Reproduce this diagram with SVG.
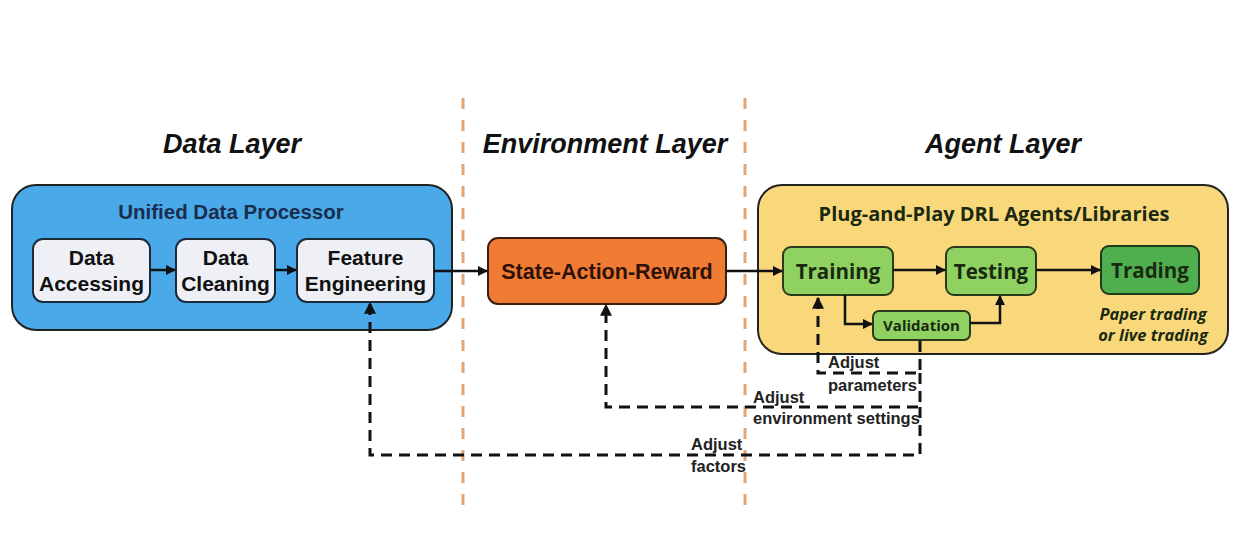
<svg xmlns="http://www.w3.org/2000/svg" width="1256" height="534" viewBox="0 0 1256 534">
<defs>
<marker id="ah" viewBox="0 0 10 10" refX="9" refY="5" markerWidth="4" markerHeight="4" orient="auto-start-reverse" markerUnits="strokeWidth">
<path d="M0,0 L10,5 L0,10 z" fill="#111"/>
</marker>
<style>
.layer{font-family:"Liberation Sans",Arial,sans-serif;font-weight:bold;font-style:italic;font-size:27px;fill:#111;text-anchor:middle}
.sep{stroke:#e3a575;stroke-width:3;stroke-dasharray:11 11;fill:none}
.grp{stroke:#222;stroke-width:2}
.t1{font-family:"Liberation Sans",Arial,sans-serif;font-weight:bold;font-size:20.5px;text-anchor:middle}
.box{fill:#eef0f5;stroke:#1d2a3a;stroke-width:2}
.bt{font-family:"Liberation Sans",Arial,sans-serif;font-weight:bold;font-size:21px;fill:#111;text-anchor:middle}
.ag{font-family:"Open Sans","Liberation Sans",sans-serif;font-weight:bold;text-anchor:middle;fill:#1a2a10}
.gbox{fill:#8fd262;stroke:#2a3a1a;stroke-width:2}
.conn{stroke:#111;stroke-width:2.5;fill:none}
.dash{stroke:#111;stroke-width:3;fill:none;stroke-dasharray:11 7}
.lbl{font-family:"Liberation Sans",Arial,sans-serif;font-weight:bold;font-size:16.5px;fill:#222}
</style>
</defs>
<rect width="1256" height="534" fill="#ffffff"/>

<g id="separators">
<line class="sep" x1="463" y1="98" x2="463" y2="505"/>
<line class="sep" x1="745" y1="98" x2="745" y2="505"/>
</g>

<g id="layer-titles">
<text class="layer" x="232" y="153">Data Layer</text>
<text class="layer" x="605" y="153">Environment Layer</text>
<text class="layer" x="1003" y="153">Agent Layer</text>
</g>

<g id="data-layer">
<rect class="grp" x="12" y="185" width="440" height="145" rx="24" fill="#4aa9e9"/>
<text class="t1" x="231" y="219" fill="#1a2d4d">Unified Data Processor</text>
</g>

<g id="data-accessing">
<rect class="box" x="33" y="239" width="117" height="63" rx="10"/>
<text class="bt" x="91.5" y="265">Data</text>
<text class="bt" x="91.5" y="291">Accessing</text>
</g>
<g id="data-cleaning">
<rect class="box" x="176" y="239" width="99" height="63" rx="10"/>
<text class="bt" x="225.5" y="265">Data</text>
<text class="bt" x="225.5" y="291">Cleaning</text>
</g>
<g id="feature-engineering">
<rect class="box" x="297" y="239" width="137" height="63" rx="10"/>
<text class="bt" x="365.5" y="265">Feature</text>
<text class="bt" x="365.5" y="291">Engineering</text>
</g>

<g id="state-action-reward">
<rect x="488" y="238" width="238" height="66" rx="10" fill="#f07b32" stroke="#3a2010" stroke-width="2"/>
<text class="bt" x="607" y="279" style="fill:#2e120a;font-size:21.5px">State-Action-Reward</text>
</g>

<g id="agent-layer">
<rect class="grp" x="758" y="185" width="470" height="169" rx="24" fill="#f9d87c"/>
<text class="ag" x="994" y="221" font-size="20">Plug-and-Play DRL Agents/Libraries</text>
</g>
<g id="training">
<rect class="gbox" x="783" y="247" width="110" height="48" rx="8"/>
<text class="ag" x="838" y="279" font-size="20.5">Training</text>
</g>
<g id="testing">
<rect class="gbox" x="946" y="247" width="90" height="48" rx="8"/>
<text class="ag" x="991" y="279" font-size="20.5">Testing</text>
</g>
<g id="trading">
<rect x="1101" y="246" width="98" height="48" rx="8" fill="#4faf4f" stroke="#1e3a1e" stroke-width="2"/>
<text class="ag" x="1150" y="278" font-size="20.5">Trading</text>
</g>
<g id="validation">
<rect class="gbox" x="873" y="311" width="97" height="29" rx="6"/>
<text class="ag" x="921.5" y="331" font-size="15">Validation</text>
</g>
<g id="trading-note">
<text class="ag" x="1153" y="320" font-size="16.5" font-style="italic">Paper trading</text>
<text class="ag" x="1153" y="341" font-size="16.5" font-style="italic">or live trading</text>
</g>

<g id="connectors">
<line class="conn" x1="150" y1="270" x2="175" y2="270" marker-end="url(#ah)"/>
<line class="conn" x1="275" y1="270" x2="296" y2="270" marker-end="url(#ah)"/>
<line class="conn" x1="434" y1="271" x2="487" y2="271" marker-end="url(#ah)"/>
<line class="conn" x1="726" y1="271" x2="782" y2="271" marker-end="url(#ah)"/>
<line class="conn" x1="893" y1="270" x2="945" y2="270" marker-end="url(#ah)"/>
<line class="conn" x1="1036" y1="270" x2="1100" y2="270" marker-end="url(#ah)"/>
<polyline class="conn" points="845,295 845,324 872,324" marker-end="url(#ah)"/>
<polyline class="conn" points="970,323 1000,323 1000,296" marker-end="url(#ah)"/>

<polyline class="dash" points="920,341 920,373 818,373 818,298" marker-end="url(#ah)"/>
<polyline class="dash" points="920,373 920,407 606,407 606,305" marker-end="url(#ah)"/>
<polyline class="dash" points="920,407 920,455 370,455 370,303" marker-end="url(#ah)"/>
</g>

<g id="labels">
<text class="lbl" x="828" y="368">Adjust</text>
<text class="lbl" x="828" y="391">parameters</text>
<text class="lbl" x="753" y="403">Adjust</text>
<text class="lbl" x="753" y="424">environment settings</text>
<text class="lbl" x="691" y="450">Adjust</text>
<text class="lbl" x="691" y="472">factors</text>
</g>
</svg>
